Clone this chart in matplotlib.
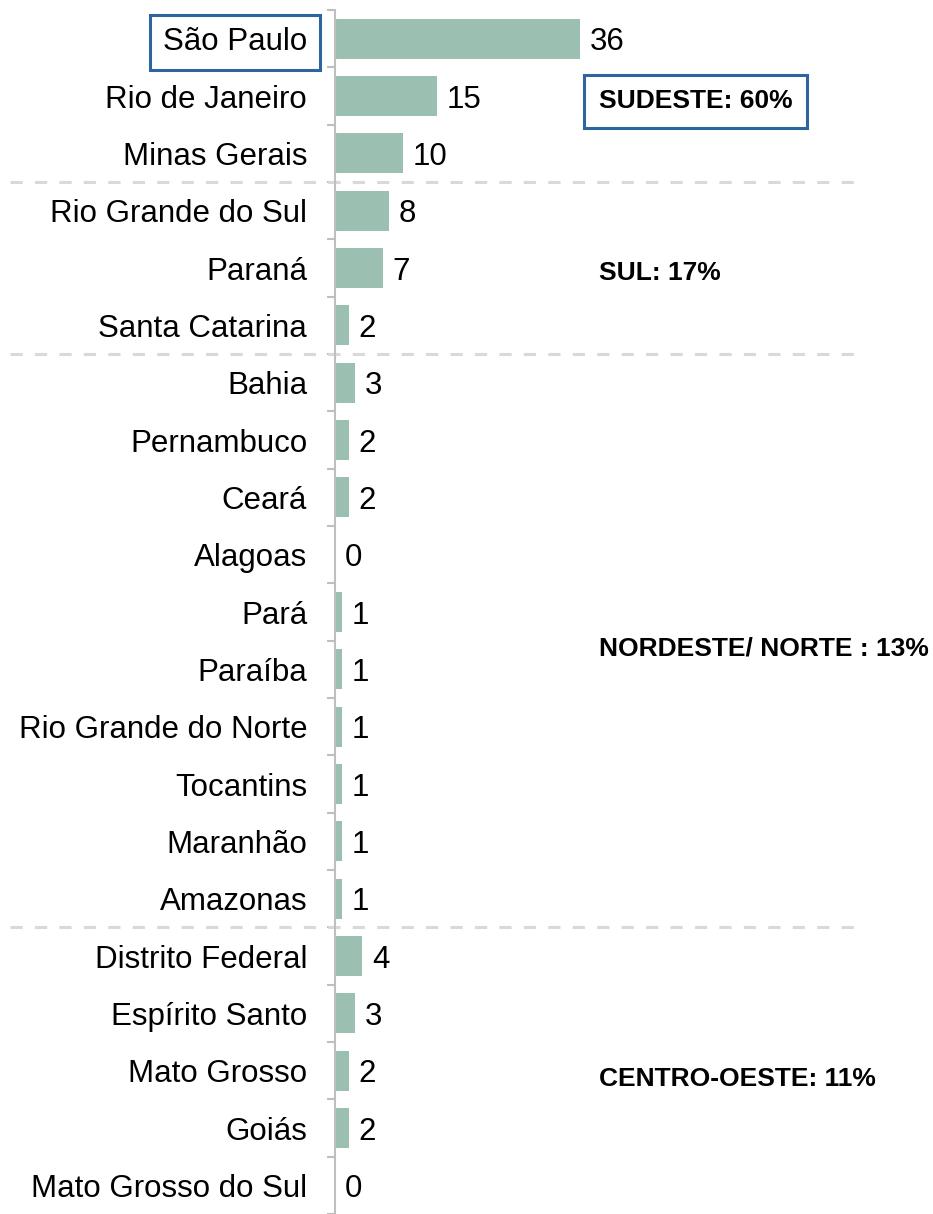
import matplotlib
matplotlib.use("Agg")
from matplotlib import pyplot as plt
from matplotlib.transforms import blended_transform_factory

plt.rcParams['font.family'] = ['Liberation Sans', 'DejaVu Sans']

estados = ["São Paulo", "Rio de Janeiro", "Minas Gerais",
           "Rio Grande do Sul", "Paraná", "Santa Catarina",
           "Bahia", "Pernambuco", "Ceará", "Alagoas", "Pará", "Paraíba",
           "Rio Grande do Norte", "Tocantins", "Maranhão", "Amazonas",
           "Distrito Federal", "Espírito Santo", "Mato Grosso", "Goiás",
           "Mato Grosso do Sul"]
valores = [36, 15, 10, 8, 7, 2, 3, 2, 2, 0, 1, 1, 1, 1, 1, 1, 4, 3, 2, 2, 0]

# fronteiras entre regiões (indice do ultimo estado de cada grupo)
fronteiras = [2, 5, 15]
regioes = ["SUDESTE: 60%", "SUL: 17%", "NORDESTE/ NORTE : 13%", "CENTRO-OESTE: 11%"]
pos_regioes = [1.05, 4.05, 10.6, 18.1]

cor_barra = "#9bbfb0"
cor_eixo = "#bfbfbf"
azul = "#2e64a0"

fig = plt.figure(figsize=(9.33, 12.14), dpi=100)
ax = fig.add_axes([335 / 933, 0, 1 - 335 / 933, 1 - 10 / 1214])

y = list(range(len(estados)))
ax.barh(y, valores, height=0.7, color=cor_barra)
ax.set_ylim(len(estados) - 0.5, -0.5)
ax.set_xlim(0, 88)

# eixo
for s in ["top", "right", "bottom"]:
    ax.spines[s].set_visible(False)
ax.spines["left"].set_color(cor_eixo)
ax.spines["left"].set_linewidth(1.5)
ax.set_xticks([])
ax.set_yticks(y)
ax.set_yticklabels(estados, fontsize=22.5)
ax.set_yticks([i - 0.5 for i in range(len(estados) + 1)], minor=True)
ax.tick_params(axis="y", which="major", length=0, pad=20)
ax.tick_params(axis="y", which="minor", length=6, width=1.5, color=cor_eixo)

# valores
for i, v in enumerate(valores):
    ax.annotate(str(v), (v, i), xytext=(7, 0), textcoords="offset points",
                ha="left", va="center_baseline", fontsize=22.5)

# linhas tracejadas separando regiões
trans = blended_transform_factory(fig.transFigure, ax.transData)
for f in fronteiras:
    ax.plot([10 / 933, 862 / 933], [f + 0.5, f + 0.5], transform=trans,
            color="#d9d9d9", lw=2.2, linestyle=(0, (4, 4)), clip_on=False)

# rótulos das regiões
for i, (txt, py) in enumerate(zip(regioes, pos_regioes)):
    t = ax.text(38.8, py, txt, fontsize=19, fontweight="bold", ha="left",
                va="center_baseline")
    if i == 0:
        t.set_bbox(dict(facecolor="white", edgecolor=azul, linewidth=2.2,
                        boxstyle="square,pad=0.55"))

# destaque São Paulo
ax.get_yticklabels()[0].set_bbox(dict(facecolor="white", edgecolor=azul, linewidth=2.2,
                                      boxstyle="square,pad=0.4"))

fig.savefig("out.png", dpi=100)
